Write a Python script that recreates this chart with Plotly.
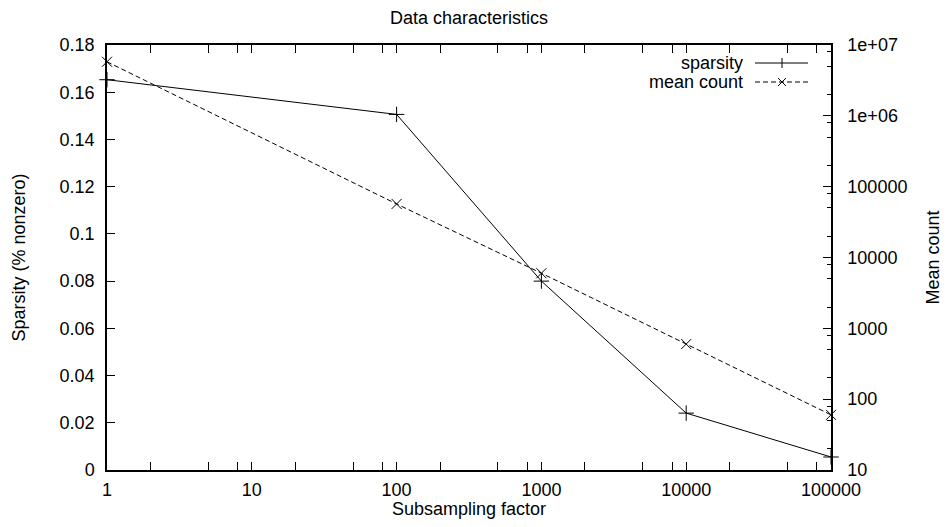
import plotly.graph_objects as go

# Data
subsampling = [1, 100, 1000, 10000, 100000]
sparsity = [0.1653, 0.1506, 0.0800, 0.0241, 0.0055]
mean_count = [5.8e6, 5.7e4, 6.0e3, 6.0e2, 6.0e1]

y_ticks = [0, 0.02, 0.04, 0.06, 0.08, 0.1, 0.12, 0.14, 0.16, 0.18]
y_ticklabels = ["0", "0.02", "0.04", "0.06", "0.08", "0.1", "0.12", "0.14", "0.16", "0.18"]
y2_ticks = [10, 100, 1000, 10000, 100000, 1e6, 1e7]
y2_ticklabels = ["10", "100", "1000", "10000", "100000", "1e+06", "1e+07"]
x_ticks = [1, 10, 100, 1000, 10000, 100000]
x_ticklabels = ["1", "10", "100", "1000", "10000", "100000"]
minor_mult = [2, 5, 8]

FONT = "Liberation Sans, Arial, sans-serif"
FS = 18
OFF = 8  # page body margin
W, H = 950 - 2 * OFF, 527 - 2 * OFF
L, T = 107 - OFF, 45 - OFF
PW, PH = 724, 425
R, B = W - L - PW, H - T - PH

def px(x):  # reference screenshot pixel -> paper
    return (x - OFF - L) / PW

def py(y):
    return (T + PH - (y - OFF)) / PH

x_minor = [m * 10 ** e for e in range(0, 5) for m in minor_mult]
y2_minor = [m * 10 ** e for e in range(1, 7) for m in minor_mult]

fig = go.Figure()
fig.add_trace(go.Scatter(
    x=subsampling, y=sparsity, mode="lines+markers", name="sparsity",
    line=dict(color="black", width=1),
    marker=dict(symbol="cross-thin", size=11, line=dict(color="black", width=1)),
    showlegend=False, cliponaxis=False,
))
fig.add_trace(go.Scatter(
    x=subsampling, y=mean_count, mode="lines+markers", name="mean count",
    yaxis="y2",
    line=dict(color="black", width=1, dash="5px,3px"),
    marker=dict(symbol="x-thin", size=10, line=dict(color="black", width=1)),
    showlegend=False, cliponaxis=False,
))

axis_common = dict(
    showline=True, linecolor="black", linewidth=1.5,
    ticks="inside", tickcolor="black", showgrid=False, zeroline=False,
    tickfont=dict(family=FONT, size=FS, color="black"),
)

fig.update_layout(
    width=W, height=H,
    margin=dict(l=L, r=R, t=T, b=B, autoexpand=False),
    paper_bgcolor="white", plot_bgcolor="white",
    font=dict(family=FONT, size=FS, color="black"),
    title=dict(text="Data characteristics", x=px(469), xref="paper", xanchor="center",
               y=1 - 10 / H, yanchor="middle", font=dict(family=FONT, size=FS)),
    xaxis=dict(
        type="log", range=[0, 5], tickvals=x_ticks, ticktext=x_ticklabels,
        ticklen=8, mirror="allticks", ticklabelstandoff=3,
        minor=dict(ticks="inside", ticklen=4, tickvals=x_minor, tickcolor="black", showgrid=False),
        **axis_common,
    ),
    yaxis=dict(
        range=[0, 0.18], tickvals=y_ticks, ticktext=y_ticklabels, ticklen=8,
        ticklabelstandoff=7,
        **axis_common,
    ),
    yaxis2=dict(
        type="log", range=[1, 7], overlaying="y", side="right",
        tickvals=y2_ticks, ticktext=y2_ticklabels, ticklen=8,
        ticklabelstandoff=11,
        minor=dict(ticks="inside", ticklen=4, tickvals=y2_minor, tickcolor="black", showgrid=False),
        **axis_common,
    ),
)

annotations = [
    dict(text="Subsampling factor", x=px(469), y=py(509), xref="paper", yref="paper",
         showarrow=False, xanchor="center", yanchor="middle"),
    dict(text="Sparsity (% nonzero)", x=px(18), y=0.5, xref="paper", yref="paper",
         textangle=-90, showarrow=False, xanchor="center", yanchor="middle"),
    dict(text="Mean count", x=px(932), y=0.5, xref="paper", yref="paper",
         textangle=-90, showarrow=False, xanchor="center", yanchor="middle"),
    dict(text="sparsity", x=px(745), y=py(63), xref="paper", yref="paper",
         showarrow=False, xanchor="right", yanchor="middle"),
    dict(text="mean count", x=px(745), y=py(82), xref="paper", yref="paper",
         showarrow=False, xanchor="right", yanchor="middle"),
]
fig.update_layout(annotations=annotations)

# legend samples (decoration)
shapes = [
    dict(type="line", xref="paper", yref="paper", x0=px(755), x1=px(808),
         y0=py(63), y1=py(63), line=dict(color="black", width=1)),
    dict(type="line", xref="paper", yref="paper", x0=px(782), x1=px(782),
         y0=py(58), y1=py(68), line=dict(color="black", width=1)),
    dict(type="line", xref="paper", yref="paper", x0=px(755), x1=px(808),
         y0=py(82), y1=py(82), line=dict(color="black", width=1, dash="5px,3px")),
    dict(type="line", xref="paper", yref="paper", x0=px(778), x1=px(786),
         y0=py(78), y1=py(86), line=dict(color="black", width=1)),
    dict(type="line", xref="paper", yref="paper", x0=px(778), x1=px(786),
         y0=py(86), y1=py(78), line=dict(color="black", width=1)),
]
fig.update_layout(shapes=shapes)

fig.write_html("out.html")
